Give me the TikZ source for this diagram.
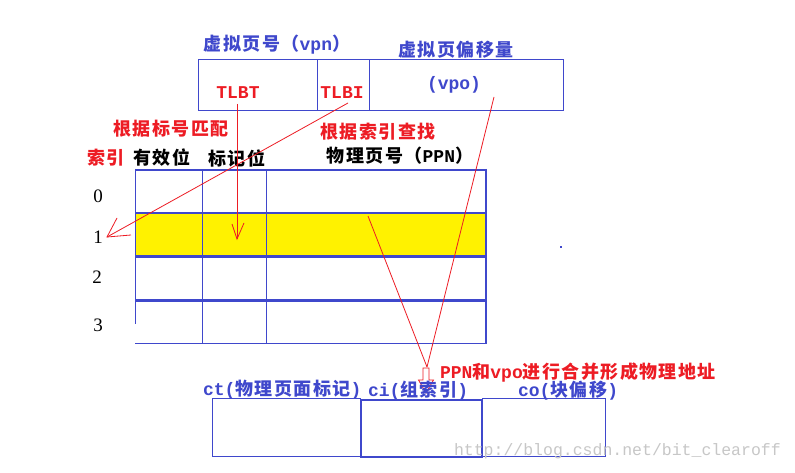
\documentclass[tikz,border=0pt]{standalone}
\usepackage{fontspec}
\usetikzlibrary{calc}
\newfontfamily\cjk{Noto Sans CJK SC}[LetterSpace=8]
\newfontfamily\monof{Liberation Mono}
\newfontfamily\serf{Liberation Serif}
\newcommand\lat[1]{{\monof\bfseries #1}}
\definecolor{myblue}{RGB}{63,72,204}
\definecolor{myred}{RGB}{237,28,36}
\definecolor{myyellow}{RGB}{255,242,0}
\tikzset{
  txt/.style={inner sep=0pt, outer sep=0pt},
  bluetxt/.style={txt, text=myblue, font=\cjk\bfseries\fontsize{18}{20}\selectfont},
  redtxt/.style={txt, text=myred, font=\cjk\bfseries\fontsize{18}{20}\selectfont},
  blacktxt/.style={txt, text=black, font=\cjk\bfseries\fontsize{18}{20}\selectfont},
  redmono/.style={txt, text=myred, font=\monof\bfseries\fontsize{18}{20}\selectfont},
  bluemono/.style={txt, text=myblue, font=\monof\bfseries\fontsize{18}{20}\selectfont},
  rownum/.style={txt, text=black, font=\serf\fontsize{19}{20}\selectfont},
  fieldbox/.style={draw=myblue, line width=1pt, inner sep=0pt, outer sep=0pt},
  gridline/.style={draw=myblue, line width=1pt},
  redline/.style={draw=myred, line width=0.8pt},
}
\begin{document}
\begin{tikzpicture}[x=1pt,y=-1pt]
\useasboundingbox[fill=white] (0,0) rectangle (795,473);

% ---- top virtual address ----
\node[fieldbox, minimum width=119pt, minimum height=51pt] (vpnbox) at (257.5,85.5) {};
\node[fieldbox, minimum width=52pt, minimum height=51pt] (tlbibox) at (343,85.5) {};
\node[fieldbox, minimum width=194pt, minimum height=51pt] (vpobox) at (466,85.5) {};

\node[bluetxt] (vpnlbl) at (277,45) {虚拟页号（\lat{vpn}）};
\node[bluetxt] (vpolbl) at (456,50) {虚拟页偏移量};
\node[redmono] (tlbt) at (238,93) {TLBT};
\node[redmono] (tlbi) at (342,93) {TLBI};
\node[bluemono] (vpo) at (454,85) {(vpo)};

% ---- labels ----
\node[redtxt] (match) at (171,129) {根据标号匹配};
\node[redtxt] (lookup) at (378,132) {根据索引查找};
\node[redtxt] (idx) at (106,158) {索引};
\node[blacktxt] (valid) at (162,158) {有效位};
\node[blacktxt] (tag) at (237,158) {标记位};
\node[blacktxt] (ppn) at (400,156) {物理页号（\lat{PPN}）};

% ---- TLB table ----
\fill[myyellow] (136,214) rectangle (485,255);
\draw[gridline, line width=2pt] (135,170) -- (487,170);
\draw[gridline, line width=2pt] (135,213) -- (487,213);
\draw[gridline, line width=3pt] (135,256) -- (487,256);
\draw[gridline, line width=3pt] (135,300) -- (487,300);
\draw[gridline] (135,343) -- (487,343);
\draw[gridline, line width=1.5pt] (135.5,169) -- (135.5,324);
\draw[gridline, line width=2pt] (486,169) -- (486,344);
\draw[gridline] (202,170) -- (202,343);
\draw[gridline] (266,170) -- (266,343);

\node[rownum] (r0) at (98,196) {0};
\node[rownum] (r1) at (98,237) {1};
\node[rownum] (r2) at (97,277) {2};
\node[rownum] (r3) at (98,325) {3};

% ---- red connectors ----
\coordinate (tlbtTop) at (237,104);
\coordinate (tlbtTip) at (237,239);
\draw[redline] (tlbtTop) -- (tlbtTip);
\draw[redline] ($(tlbtTip)+(-5,-15)$) -- (tlbtTip) -- ($(tlbtTip)+(7,-16)$);

\coordinate (tlbiTop) at (348,103);
\coordinate (tlbiTip) at (107,237);
\draw[redline] (tlbiTop) -- (tlbiTip);
\draw[redline] ($(tlbiTip)+(10,-19)$) -- (tlbiTip) -- ($(tlbiTip)+(24,-2)$);

\coordinate (vpoStart) at (494,97);
\coordinate (ppnStart) at (368,216);
\coordinate (merge) at (427,367);
\draw[redline] (vpoStart) -- (merge);
\draw[redline] (ppnStart) -- (merge);

\draw[redline] (423,368) -- (423,380) -- (418.5,380) -- (426,393) -- (433.5,380) -- (429,380) -- (429,368) -- cycle;

\node[redtxt, anchor=west] (mergelbl) at (440,373) {\lat{PPN}和\lat{vpo}进行合并形成物理地址};

% ---- physical address ----
\node[fieldbox, minimum width=148.5pt, minimum height=58pt] (ctbox) at (286.5,427.3) {};
\node[fieldbox, minimum width=121.5pt, minimum height=57pt, line width=2pt] (cibox) at (421.5,428) {};
\node[fieldbox, minimum width=123pt, minimum height=58pt] (cobox) at (543.5,427.5) {};

\node[bluetxt, anchor=west] (ctlbl) at (203,390) {\lat{ct(}物理页面标记\lat{)}};
\node[bluetxt, anchor=west] (cilbl) at (368,391) {\lat{ci(}组索引\lat{)}};
\node[bluetxt, anchor=west] (colbl) at (518,391) {\lat{co(}块偏移\lat{)}};

% ---- misc ----
\fill[myblue] (560,246) rectangle (562,248);
\node[txt, text=black!22, font=\monof\fontsize{16.5}{18}\selectfont, anchor=west] (wm) at (454,451) {http://blog.csdn.net/bit\_clearoff};
\end{tikzpicture}
\end{document}
